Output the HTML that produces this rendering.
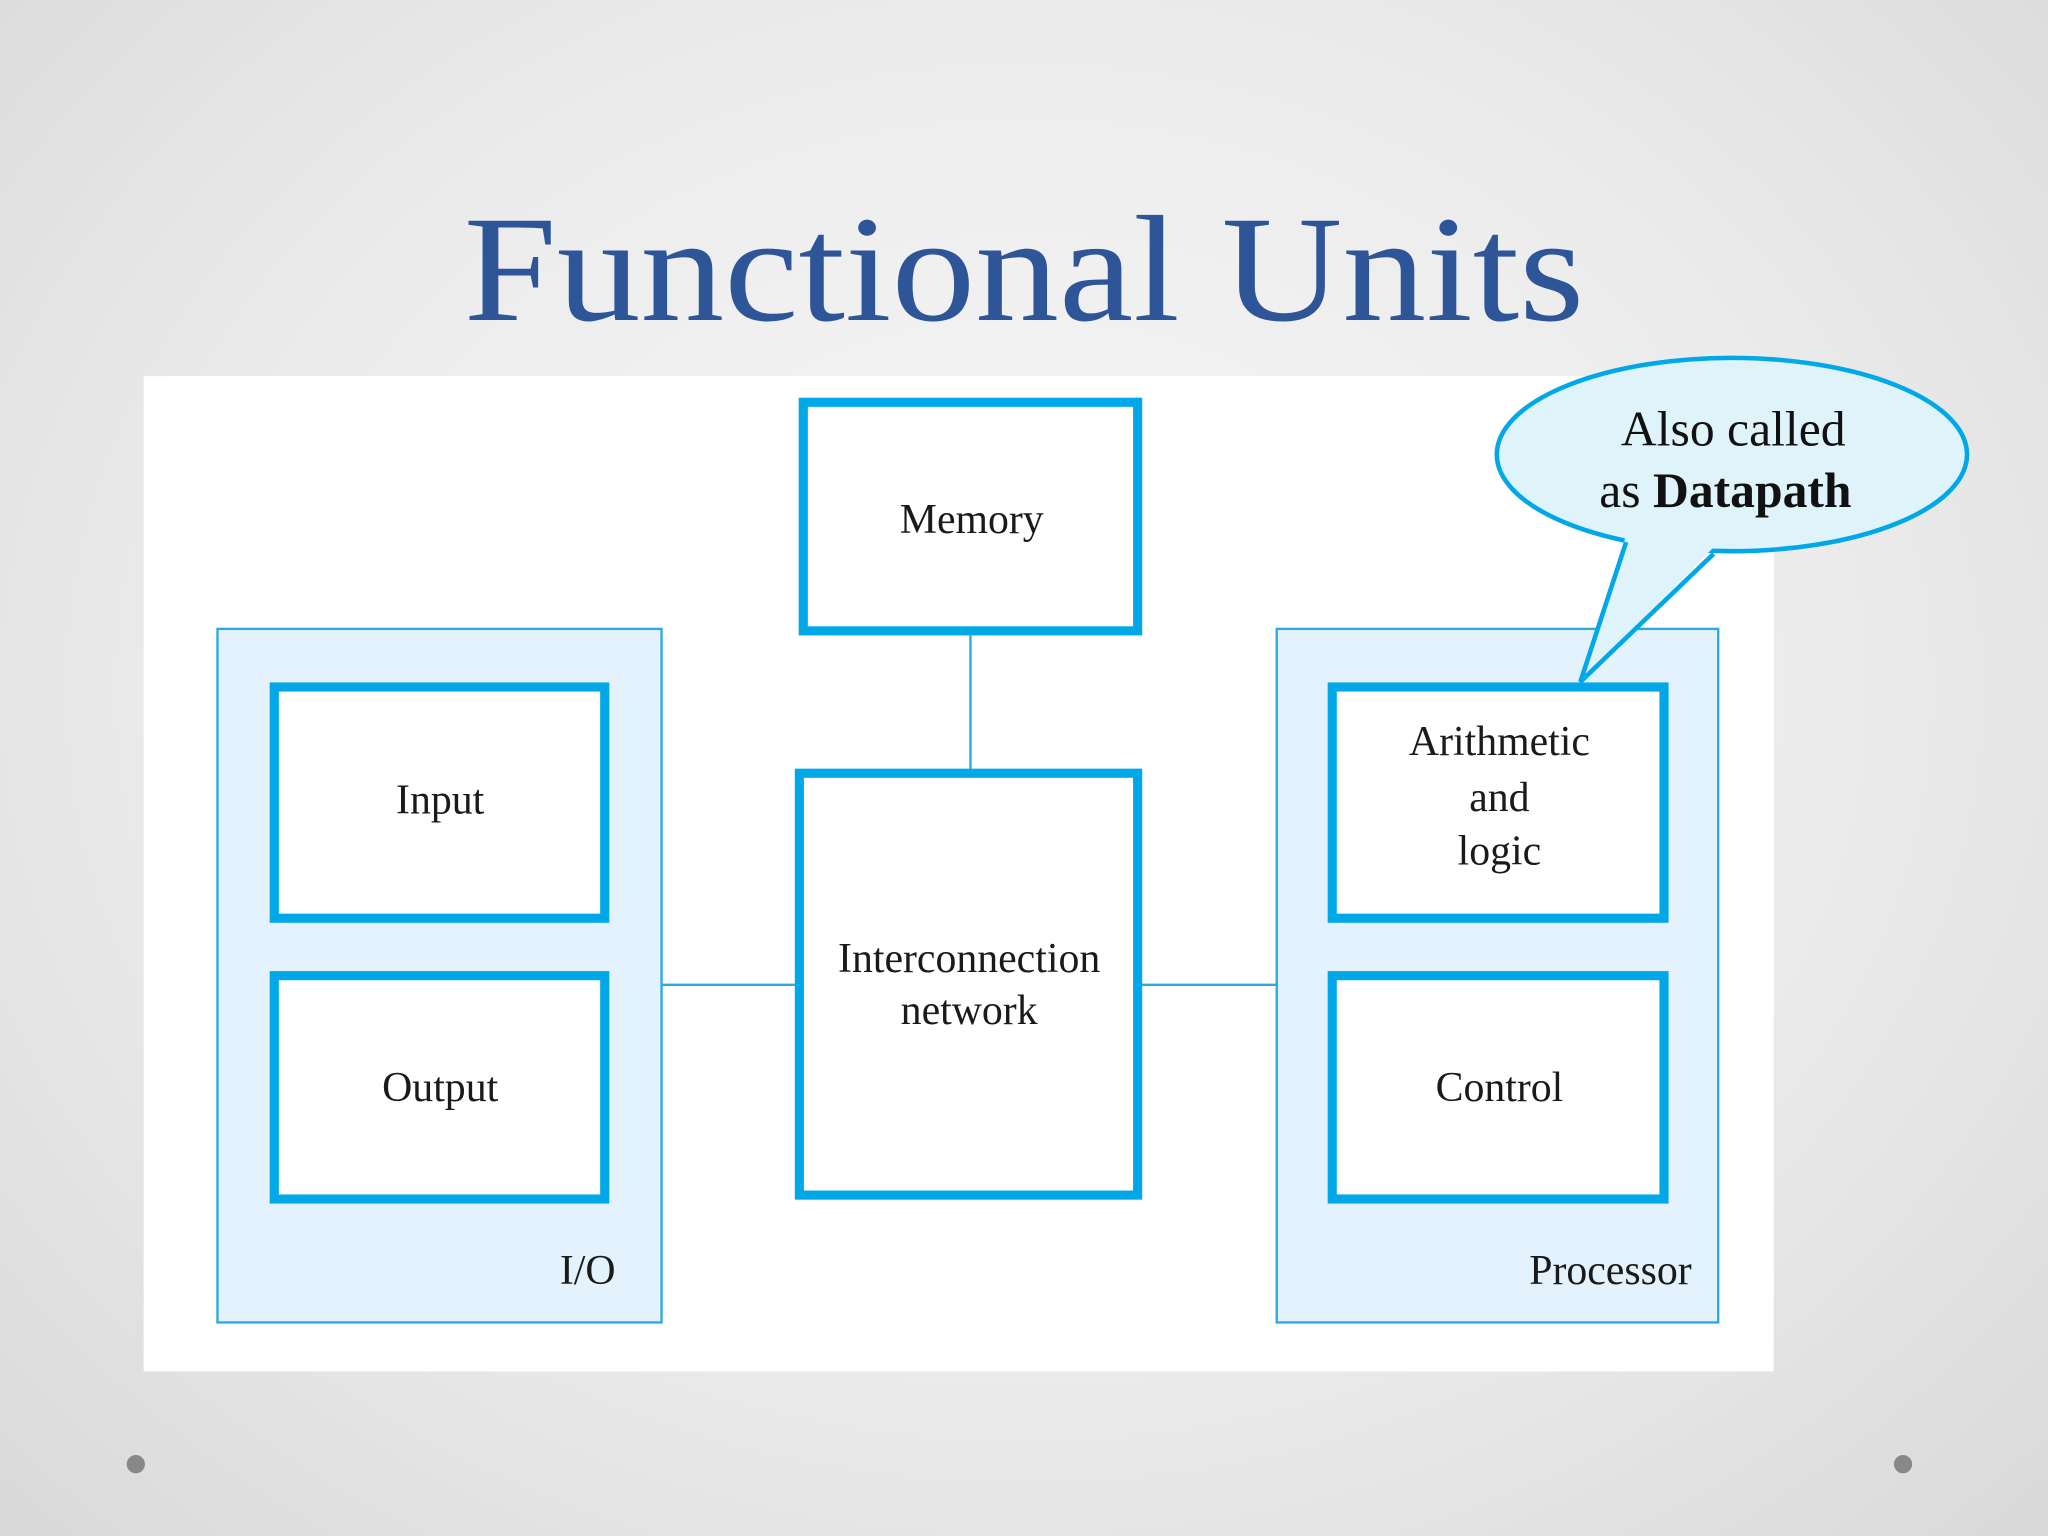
<!DOCTYPE html>
<html><head><meta charset="utf-8"><style>
html,body{margin:0;padding:0;width:2048px;height:1536px;overflow:hidden}
body{background:radial-gradient(ellipse at 50% 45%,#f7f7f7 0%,#ececec 55%,#d9d9d9 100%)}
svg{display:block}
</style></head><body>
<svg width="2048" height="1536" viewBox="0 0 1568 1176" xmlns="http://www.w3.org/2000/svg">
<text x="784" y="245" text-anchor="middle" font-family="Liberation Serif, serif" font-size="116" fill="#2e5597" textLength="858" lengthAdjust="spacingAndGlyphs">Functional Units</text>
<rect x="110" y="288" width="1248" height="762" fill="#fff"/>
<rect x="166.5" y="481.5" width="340" height="531" fill="#e3f2fc" stroke="#29abe2" stroke-width="1.8"/>
<rect x="977.5" y="481.5" width="338" height="531" fill="#e3f2fc" stroke="#29abe2" stroke-width="1.8"/>
<line x1="743" y1="485" x2="743" y2="590" stroke="#29abe2" stroke-width="1.8"/>
<line x1="506" y1="754" x2="610" y2="754" stroke="#29abe2" stroke-width="1.8"/>
<line x1="872" y1="754" x2="977" y2="754" stroke="#29abe2" stroke-width="1.8"/>
<g fill="#fff" stroke="#00a8e8" stroke-width="7">
<rect x="615" y="308" width="256" height="175"/>
<rect x="612" y="592" width="259" height="323"/>
<rect x="210" y="526" width="253" height="177"/>
<rect x="210" y="747" width="253" height="171"/>
<rect x="1020" y="526" width="254" height="177"/>
<rect x="1020" y="747" width="254" height="171"/>
</g>
<g font-family="Liberation Serif, serif" font-size="32" fill="#1a1a1a" text-anchor="middle">
<text x="744" y="408">Memory</text>
<text x="742" y="744">Interconnection</text>
<text x="742" y="784">network</text>
<text x="337" y="623">Input</text>
<text x="337" y="843">Output</text>
<text x="1148" y="578">Arithmetic</text>
<text x="1148" y="621">and</text>
<text x="1148" y="662">logic</text>
<text x="1148" y="843">Control</text>
<text x="450" y="983">I/O</text>
<text x="1233" y="983">Processor</text>
</g>
<ellipse cx="1326" cy="348" rx="180" ry="74" fill="#dff3fb" stroke="#00a8e8" stroke-width="3.5"/>
<polygon points="1248,400 1210,522 1316,415" fill="#dff3fb"/>
<polyline points="1245,415 1210,522 1312,424" fill="none" stroke="#00a8e8" stroke-width="3.5"/>
<g font-family="Liberation Serif, serif" font-size="38" fill="#111" text-anchor="middle">
<text x="1327" y="341">Also called</text>
<text x="1321" y="388">as <tspan font-weight="bold">Datapath</tspan></text>
</g>
<circle cx="104" cy="1121" r="7" fill="#888"/>
<circle cx="1457" cy="1121" r="7" fill="#888"/>
</svg>
</body></html>
